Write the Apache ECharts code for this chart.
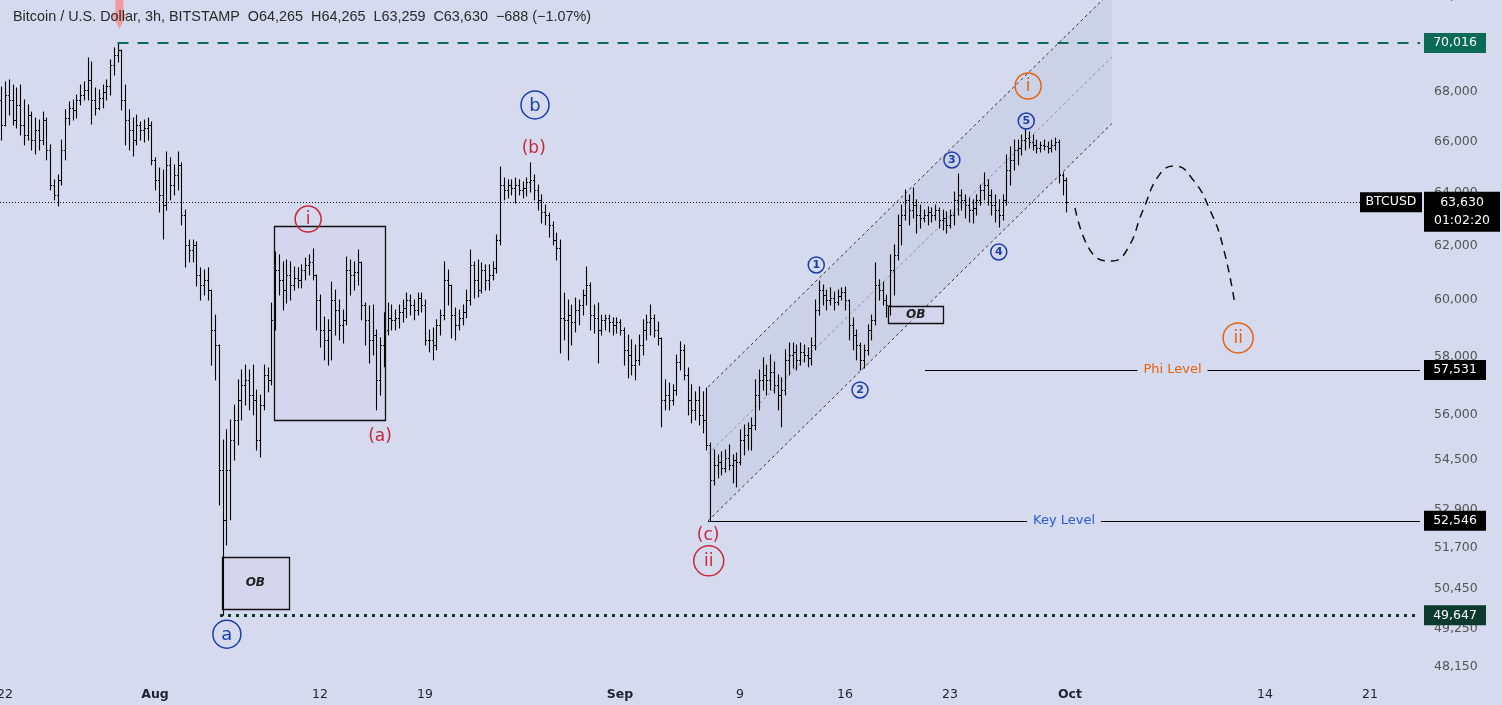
<!DOCTYPE html>
<html>
<head>
<meta charset="utf-8">
<script src="https://cdn.jsdelivr.net/npm/echarts@6/dist/echarts.min.js"></script>
<style>
html,body{margin:0;padding:0;background:#d5daee;}
#chart{width:1502px;height:705px;}
</style>
</head>
<body>
<div id="chart"></div>
<script>
// ---------- DATA (BTCUSD, resampled to 6h bars: [open, high, low, close]) ----------
const firstBarTime = '2024-07-21T18:00';
const barHours = 6;
const barsJul = [
[67660,68190,66050,66650],[66650,68400,66610,67860],[67860,68480,67050,67660],[67660,68270,66650,66850],
[66850,68150,66530,67460],[67460,68270,66250,66650],[66650,67660,65860,66250],[66250,67460,66050,67050],
[67050,67170,65660,66050],[66050,66930,65500,66450],[66450,66850,65660,66050],[66050,67170,65860,66850],
[66850,66930,65270,65660],[65660,65860,64100,64290],[64290,64490,63720,63910],[63910,64680,63490,64490],
[64490,66050,64290,65660],[65660,67260,65270,66930],[66930,67580,66650,67340],[67340,67660,66850,67260],
[67260,67860,66930,67660],[67660,68270,67460,67860],[67860,68400,67660,68070],[68070,69390,67660,68480],
[68480,69220,66690,67660],[67660,68150,67050,67340],[67340,68070,67260,67740],[67740,68270,67340,67990],
[67990,68480,67660,68230],[68230,69310,67860,69100],[69100,69810,68680,69510],[69510,70016,69220,69720],
[69720,69720,67260,67660],[67660,68270,65860,66850],[66850,67260,65660,66450],[66450,66930,65420,66050],
[66050,67050,65860,66650],[66650,66770,66050,66450],[66450,66850,65970,66530],[66530,66930,66050,66650],
[66650,66770,65070,65270]
];
const barsAug = [
[65270,65350,64100,64490],[64490,64950,63260,63910],[63910,64870,62240,63520],[63520,65580,63330,65070],
[65070,65350,63720,64290],[64290,65070,63910,64680],[64680,65580,64100,65070],[65070,65150,62770,63140],
[63140,63330,61200,62020],[62020,62200,61390,61830],[61830,62200,61390,62020],[62020,62130,60510,60910],
[60910,61170,60000,60540],[60540,61090,60180,60730],[60730,61170,60000,60360],[60360,60360,57700,58930],
[58930,59460,57190,58400],[58400,58400,53050,54180],[54180,55160,49647,52580],[52580,55500,51790,54180],
[54180,55830,52580,55160],[55160,56330,54500,55830],[55830,57190,55000,56500],[56500,57530,55830,57020],
[57020,57700,56330,57190],[57190,57530,56170,56670],[56670,57700,56000,56500],[56500,56840,54830,55160],
[55160,56670,54600,56330],[56330,57700,56170,57360],[57360,57600,56780,57190],[57190,59890,57020,59290],
[59290,61760,58930,61090],[61090,61650,60180,60730],[60730,61390,59640,60360],[60360,61460,59890,60910],
[60910,61390,60000,60540],[60540,61200,60360,60800],[60800,61170,60440,60730],[60730,61280,60440,61090],
[61090,61530,60730,61280],[61280,61650,60910,61390],[61390,61870,60730,60910],[60910,60910,58930,60000],
[60000,60180,58330,58930],[58930,59390,57880,58580],[58580,59290,57700,58930],[58930,60650,57880,60000],
[60000,60360,58750,59640],[59640,60000,58580,59110],[59110,59640,58470,59290],[59290,61570,59110,61090],
[61090,61460,60180,60910],[60910,61390,60360,61020],[61020,61830,60540,61390],[61390,61390,59290,59820],
[59820,59890,58400,59290],[59290,59790,57770,58580],[58580,59820,58050,58750],[58750,58930,56170,57190],
[57190,58650,56670,58400],[58400,59540,57640,58930],[58930,59890,58750,59360],[59360,59820,58930,59290],
[59290,59640,58930,59360],[59360,59820,59000,59570],[59570,60000,59210,59710],[59710,60250,59360,60000],
[60000,60180,59460,59820],[59820,60000,59290,59640],[59640,60250,59460,60070],[60070,60250,59570,59820],
[59820,60000,58400,58580],[58580,58930,58160,58580],[58580,59000,57880,58400],[58400,59290,58230,59110],
[59110,59640,58750,59460],[59460,61390,59290,60730],[60730,61090,59820,60540],[60540,60540,58650,59460],
[59460,59710,58580,59110],[59110,59640,58930,59360],[59360,59820,59110,59570],[59570,60360,59360,60000],
[60000,61830,59820,61280],[61280,61390,60070,60730],[60730,61460,60110,60360],[60360,61350,60250,61090],
[61090,61280,60360,60730],[60730,61280,60360,60910],[60910,61390,60730,61170],[61170,62390,60980,62200],
[62200,64990,62020,64290],[64290,64560,63720,64100],[64100,64490,63790,64290],[64290,64490,63910,64180],
[64180,64560,63600,64290],[64290,64490,63910,64100],[64100,64410,63790,64180],[64180,64560,63870,64410],
[64410,65150,64020,64490],[64490,64680,63720,64100],[64100,64290,63330,63720],[63720,63910,62840,63260],
[63260,63520,62770,63140],[63140,63220,62310,62770],[62770,62880,62020,62200],[62200,62460,61460,61900],
[61900,62200,58120,59360],[59360,60250,58580,59290],[59290,60000,57880,59460],[59460,59820,58400,59210],
[59210,60070,58860,59640],[59640,60000,59110,59820],[59820,60360,59460,60180],[60180,61200,59820,60540],
[60540,60620,58930,59460],[59460,59820,58820,59360],[59360,59890,57770,58930],[58930,59460,58750,59290],
[59290,59460,58930,59360],[59360,59460,58860,59210],[59210,59360,58750,59110],[59110,59360,58820,59210]
];
const barsSep = [
[59210,59290,58750,58930],[58930,59000,57700,58230],[58230,58750,57260,58050],[58050,58580,57360,57700],
[57700,58400,57190,57880],[57880,58750,57700,58400],[58400,59290,58050,58930],[58930,59460,58580,59210],
[59210,59820,58750,59360],[59360,59460,58680,58930],[58930,59210,58400,58650],[58650,58650,55600,56500],
[56500,57190,56170,56670],[56670,57080,56170,56500],[56500,57020,56330,56840],[56840,58050,56670,57810],
[57810,58510,57530,58230],[58230,58400,57190,57360],[57360,57600,56000,56500],[56500,57020,55730,56170],
[56170,56780,55830,56500],[56500,56950,55660,56000],[56000,56780,55400,55830],[55830,56910,54830,55000],
[55000,55060,52546,53850],[53850,54830,53690,54340],[54340,54670,53920,54440],[54440,54770,54020,54240],
[54240,54830,54110,54570],[54570,55000,54180,54340],[54340,54670,53760,54500],[54500,54730,53630,54440],
[54440,55500,54340,55160],[55160,55660,54670,55330],[55330,55730,54830,55560],[55560,55900,54830,55660],
[55660,57190,55500,56670],[56670,57530,56170,57190],[57190,57950,56840,57360],[57360,57700,56670,57190],
[57190,58050,56840,57460],[57460,57810,56740,57020],[57020,57360,56170,56670],[56670,57260,55600,56840],
[56840,58230,56670,57880],[57880,58470,57360,58050],[58050,58470,57600,58160],[58160,58400,57530,57880],
[57880,58470,57700,58160],[58160,58400,57810,58050],[58050,58300,57640,57950],[57950,58650,57700,58400],
[58400,60000,58230,59640],[59640,60690,59460,60360],[60360,60540,59820,60180],[60180,60360,59640,60000],
[60000,60440,59820,60070],[60070,60290,59640,59930],[59930,60360,59820,60150],[60150,60440,60000,60290],
[60290,60470,59640,60000],[60000,60000,58580,59110],[59110,59360,58230,58750],[58750,58930,57880,58400],
[58400,58470,57530,57880],[57880,58400,57600,58230],[58230,59110,58050,58930],[58930,59460,58580,59290],
[59290,61350,59110,60540],[60540,60730,60000,60360],[60360,60650,59820,60000],[60000,60180,59390,59820],
[59820,61650,59460,61090],[61090,62020,60180,61650],[61650,63140,61460,62770],[62770,63520,62020,63140],
[63140,64100,62950,63720],[63720,63910,62770,63330],[63330,64180,63030,63520],[63520,63720,62460,63140],
[63140,63520,62650,63030],[63030,63330,62880,63140],[63140,63450,62770,63260],[63260,63410,62880,63140],
[63140,63520,62950,63330],[63330,63410,62650,62950],[62950,63330,62580,63030],[63030,63260,62460,62770],
[62770,63330,62650,63140],[63140,64020,62770,63720],[63720,64720,63140,63910],[63910,64100,63330,63720],
[63720,63910,63030,63520],[63520,63790,62880,63330],[63330,63720,62840,63410],[63410,63910,63140,63720],
[63720,64290,63520,64100],[64100,64760,63720,64290],[64290,64490,63520,63910],[63910,64100,63140,63520],
[63520,63910,62880,63330],[63330,63720,62690,63140],[63140,63910,62950,63720],[63720,65460,63520,64870],
[64870,65780,64290,65270],[65270,66050,64870,65660],[65660,66050,65070,65740],[65740,66250,65460,66050],
[66050,66490,65660,66130],[66130,66370,65740,65970],[65970,66250,65660,65860],[65860,66050,65540,65740],
[65740,65970,65580,65860],[65860,66050,65660,65820],[65820,65970,65540,65740],[65740,66050,65580,65860],
[65860,66130,65660,65970],[65970,66050,64370,64680],[64680,64760,63910,64490],[64490,64560,63259,63630]
];

// axis ticks
const priceTicks = [48150,49250,50450,51700,52900,54500,56000,58000,60000,62000,64000,66000,68000,70000,72000];
const dateTicks = ['2024-07-22T00:00','2024-08-01T00:00','2024-08-12T00:00','2024-08-19T00:00','2024-09-01T00:00',
                   '2024-09-09T00:00','2024-09-16T00:00','2024-09-23T00:00','2024-10-01T00:00','2024-10-14T00:00','2024-10-21T00:00'];
const dateTickLabels = ['22','Aug','12','19','Sep','9','16','23','Oct','14','21'];
const dateTickIsMonth = [false,true,false,false,true,false,false,false,true,false,false];
const viewFrom = '2024-07-21T16:00', viewTo = '2024-10-24T08:00';
const viewPriceLow = 47756, viewPriceHigh = 72280;

// horizontal levels
const levelPrice = [70016, 63630, 57531, 52546, 49647];
const levelFrom  = ['2024-07-29T12:00', viewFrom, '2024-09-21T08:00', '2024-09-06T21:00', '2024-08-05T08:00'];
const levelName  = ['', '', 'Phi Level', 'Key Level', ''];

// rising channel (upper and lower edges)
const channelFrom = '2024-09-06T21:00', channelTo = '2024-10-03T19:00';
const channelUpper = [56947, 72250];
const channelLower = [52546, 66704];

// boxes
const boxFrom   = ['2024-08-08T22:00', '2024-08-05T11:00', '2024-09-18T21:00'];
const boxTo     = ['2024-08-16T08:00', '2024-08-09T22:00', '2024-09-22T13:00'];
const boxTop    = [62730, 51420, 59790];
const boxBottom = [55830, 49840, 59180];
const boxText   = ['', 'OB', 'OB'];

// Elliott wave labels
const waveText   = ['i','(a)','(b)','(c)','ii','b','a','i','ii','1','2','3','4','5'];
const waveTime   = ['2024-08-11T05:00','2024-08-16T00:00','2024-08-26T06:00','2024-09-06T21:00','2024-09-06T22:00',
                    '2024-08-26T08:00','2024-08-05T19:00','2024-09-28T05:00','2024-10-12T05:00',
                    '2024-09-14T02:00','2024-09-17T00:00','2024-09-23T03:00','2024-09-26T06:00','2024-09-28T02:00'];
const wavePrice  = [62990,55300,65740,52100,51300,67460,49090,68230,58650,61275,56844,65266,61756,66810];
const waveDegree = ['minute','minuteSub','minuteSub','minuteSub','minute','minor','minor','next','next','sub','sub','sub','sub','sub'];

// projected path
const projTime  = ['2024-10-01T08:00','2024-10-02T19:00','2024-10-03T19:00','2024-10-04T19:00','2024-10-05T21:00',
                   '2024-10-07T00:00','2024-10-08T00:00','2024-10-09T05:00','2024-10-10T08:00','2024-10-11T05:00','2024-10-12T00:00'];
const projPrice = [63410,61534,61423,61830,63334,64720,65030,64490,63330,61940,59820];

// signal arrow above the high (tip)
const arrowTime = '2024-07-29T15:00', arrowPrice = 70607;

// ---------- BUILD ----------
const ts = s => Date.parse(s + ':00Z');
const L = Math.log;
const fmt = n => n.toLocaleString('en-US');
const H = barHours * 3600000;
const allBars = barsJul.concat(barsAug, barsSep);
const t0 = ts(firstBarTime);
const barData = allBars.map((b, i) => [t0 + i * H, L(b[0]), L(b[1]), L(b[2]), L(b[3])]);
const xMin = ts(viewFrom), xMax = ts(viewTo);

const BG = '#d5daee';
const FONT = "'DejaVu Sans', 'Liberation Sans', sans-serif";
const RED = '#c8283c', BLUE = '#1c3ea8', ORANGE = '#e8620c';
const degreeStyle = {
  minute:    {color: RED,    r: 13, size: 17},
  minuteSub: {color: RED,    r: 0,  size: 17},
  minor:     {color: BLUE,   r: 14, size: 18},
  next:      {color: ORANGE, r: 13, size: 17},
  sub:       {color: BLUE,   r: 8,  size: 11}
};

const dateLabelMap = {};
dateTicks.forEach((d, i) => { dateLabelMap[ts(d)] = dateTickIsMonth[i] ? '{m|' + dateTickLabels[i] + '}' : dateTickLabels[i]; });

const levelColors = ['#0b6b57', '#000', '#000', '#000', '#0c3b2d'];
const levelDash = [[11, 9], [1, 2], 'solid', 'solid', [3, 5]];
const levelWidth = [2, 1, 1, 1, 3];
const levelLabelColor = ['', '', ORANGE, '#2a5bd7', ''];
const lastLineEnd = '2024-10-20T08:00';

const markLines = levelPrice.map((p, i) => [
  {
    coord: [ts(levelFrom[i]), L(p)],
    lineStyle: {color: levelColors[i], width: levelWidth[i], type: levelDash[i]},
    label: levelName[i] ? {show: true, position: 'middle', distance: 0, verticalAlign: 'middle', formatter: levelName[i],
      color: levelLabelColor[i], backgroundColor: BG, padding: [2, 6], fontSize: 13, fontFamily: FONT} : {show: false}
  },
  {coord: [i === 1 ? ts(lastLineEnd) : xMax, L(p)]}
]);

const tag = (p, text, color, w, h, ox, oy) => ({
  coord: [xMax, L(p)], symbol: 'rect', symbolSize: [w, h], symbolOffset: [ox, oy],
  itemStyle: {color: color},
  label: {show: true, position: 'inside', formatter: text, color: '#fff', fontSize: 12.5, fontFamily: FONT, lineHeight: 18}
});

const markPoints = [
  tag(levelPrice[0], fmt(levelPrice[0]), '#0b6b57', 62, 20, 35, 0),
  tag(levelPrice[1], fmt(levelPrice[1]) + '\n01:02:20', '#000', 76, 40, 42, 9.5),
  tag(levelPrice[1], 'BTCUSD', '#000', 62, 20, -29, 0),
  tag(levelPrice[2], fmt(levelPrice[2]), '#000', 62, 20, 35, 0),
  tag(levelPrice[3], fmt(levelPrice[3]), '#000', 62, 20, 35, 0),
  tag(levelPrice[4], fmt(levelPrice[4]), '#0c3b2d', 62, 20, 35, 0)
];

const chart = echarts.init(document.getElementById('chart'), null, {renderer: 'canvas'});
chart.setOption({
  backgroundColor: BG,
  animation: false,
  title: {
    text: 'Bitcoin / U.S. Dollar, 3h, BITSTAMP\u00a0\u00a0O64,265\u00a0\u00a0H64,265\u00a0\u00a0L63,259\u00a0\u00a0C63,630\u00a0\u00a0\u2212688 (\u22121.07%)',
    left: 8, top: 5,
    textStyle: {fontSize: 14.4, fontWeight: 'normal', color: '#2a2a2a', fontFamily: "'Liberation Sans', sans-serif"}
  },
  grid: {left: 0, right: 82, top: -10, bottom: 25, containLabel: false, outerBoundsMode: 'none'},
  xAxis: {
    type: 'value', min: xMin, max: xMax,
    axisLine: {show: false}, axisTick: {show: false}, splitLine: {show: false},
    axisLabel: {
      customValues: dateTicks.map(ts),
      formatter: v => dateLabelMap[Math.round(v)] || '',
      color: '#1e222d', fontSize: 12.5, fontFamily: FONT, margin: 8,
      rich: {m: {fontWeight: 'bold', fontSize: 12.5, fontFamily: FONT, color: '#1e222d'}}
    }
  },
  yAxis: {
    type: 'value', position: 'right', min: L(viewPriceLow), max: L(viewPriceHigh),
    axisLine: {show: false}, axisTick: {show: false}, splitLine: {show: false},
    axisLabel: {
      customValues: priceTicks.map(L),
      formatter: v => fmt(Math.round(Math.exp(v))),
      color: '#555', fontSize: 12.5, fontFamily: FONT, margin: 14
    }
  },
  series: [
    {
      type: 'custom', name: 'channel', z: 1, clip: true, silent: true,
      data: [[ts(channelFrom), L(channelUpper[0]), ts(channelTo), L(channelUpper[1]), L(channelLower[1]), L(channelLower[0])]],
      encode: {x: [0, 2], y: [1, 3, 4, 5]},
      renderItem: (params, api) => {
        const a = api.coord([api.value(0), api.value(1)]);
        const b = api.coord([api.value(2), api.value(3)]);
        const c = api.coord([api.value(2), api.value(4)]);
        const d = api.coord([api.value(0), api.value(5)]);
        return {type: 'group', children: [
          {type: 'polygon', shape: {points: [a, b, c, d]}, style: {fill: 'rgba(150,160,185,0.15)'}},
          {type: 'line', shape: {x1: a[0], y1: a[1], x2: b[0], y2: b[1]}, style: {stroke: '#333', lineWidth: 1, lineDash: [3, 3]}},
          {type: 'line', shape: {x1: d[0], y1: d[1], x2: c[0], y2: c[1]}, style: {stroke: '#333', lineWidth: 1, lineDash: [3, 3]}},
          {type: 'line', shape: {x1: a[0], y1: (a[1] + d[1]) / 2, x2: b[0], y2: (b[1] + c[1]) / 2}, style: {stroke: '#8a8f9e', lineWidth: 1, lineDash: [3, 3]}}
        ]};
      }
    },
    {
      type: 'custom', name: 'boxes', z: 1, clip: true, silent: true,
      data: boxFrom.map((f, i) => [ts(f), L(boxTop[i]), ts(boxTo[i]), L(boxBottom[i])]),
      encode: {x: [0, 2], y: [1, 3]},
      renderItem: (params, api) => {
        const p1 = api.coord([api.value(0), api.value(1)]);
        const p2 = api.coord([api.value(2), api.value(3)]);
        const txt = boxText[params.dataIndex];
        const ch = [{type: 'rect', shape: {x: Math.round(p1[0]) + 0.5, y: Math.round(p1[1]) + 0.5, width: Math.round(p2[0] - p1[0]), height: Math.round(p2[1] - p1[1])},
                     style: {fill: 'rgba(214,206,236,0.38)', stroke: '#111', lineWidth: 1.3}}];
        if (txt) ch.push({type: 'text', style: {text: txt, x: (p1[0] + p2[0]) / 2, y: (p1[1] + p2[1]) / 2, align: 'center', verticalAlign: 'middle',
                          fill: '#222', fontSize: 12, fontWeight: 'bold', fontStyle: 'italic', fontFamily: FONT}});
        return {type: 'group', children: ch};
      }
    },
    {
      type: 'custom', name: 'signal', z: 3, clip: false, silent: true,
      data: [[ts(arrowTime), L(arrowPrice)]],
      encode: {x: 0, y: 1},
      renderItem: (params, api) => {
        const p = api.coord([api.value(0), api.value(1)]);
        const x = p[0], y = p[1];
        return {type: 'polygon', shape: {points: [[x - 4, y - 40], [x + 4, y - 40], [x + 4, y - 15], [x + 7.5, y - 15], [x, y], [x - 7.5, y - 15], [x - 4, y - 15]]},
                style: {fill: '#f39aa0'}};
      }
    },
    {
      type: 'custom', name: 'BTCUSD', z: 2, clip: true, silent: true,
      data: barData,
      encode: {x: 0, y: [1, 2, 3, 4]},
      renderItem: (params, api) => {
        const t = api.value(0);
        const po = api.coord([t, api.value(1)]);
        const ph = api.coord([t, api.value(2)]);
        const pl = api.coord([t, api.value(3)]);
        const pc = api.coord([t, api.value(4)]);
        const x = Math.round(po[0]) + 0.5;
        const st = {stroke: '#000', lineWidth: 1.1};
        return {type: 'group', children: [
          {type: 'line', shape: {x1: x, y1: ph[1] - 0.5, x2: x, y2: pl[1] + 0.5}, style: st},
          {type: 'line', shape: {x1: x - 1.5, y1: Math.round(po[1]) + 0.5, x2: x, y2: Math.round(po[1]) + 0.5}, style: st},
          {type: 'line', shape: {x1: x, y1: Math.round(pc[1]) + 0.5, x2: x + 1.5, y2: Math.round(pc[1]) + 0.5}, style: st}
        ]};
      }
    },
    {
      type: 'custom', name: 'waves', z: 4, clip: false, silent: true,
      data: waveTime.map((t, i) => [ts(t), L(wavePrice[i])]),
      encode: {x: 0, y: 1},
      renderItem: (params, api) => {
        const i = params.dataIndex;
        const p = api.coord([api.value(0), api.value(1)]);
        const st = degreeStyle[waveDegree[i]];
        const ch = [];
        if (st.r) {
          const r = st.r + (waveText[i].length > 1 && st.r > 8 ? 2 : 0);
          ch.push({type: 'circle', shape: {cx: p[0], cy: p[1], r: r}, style: {fill: 'none', stroke: st.color, lineWidth: 1.5}});
        }
        ch.push({type: 'text', style: {text: waveText[i], x: p[0], y: p[1] + (st.r > 8 ? 1 : 0.5), align: 'center', verticalAlign: 'middle',
                 fill: st.color, fontSize: st.size, fontFamily: FONT, fontWeight: st.r === 8 ? 'bold' : 'normal'}});
        return {type: 'group', children: ch};
      }
    },
    {
      type: 'line', name: 'projection', z: 3, clip: false, silent: true,
      data: projTime.map((t, i) => [ts(t), L(projPrice[i])]),
      smooth: 0.5, showSymbol: false, symbol: 'none',
      lineStyle: {color: '#111', width: 1.5, type: [8, 6]},
      markLine: {silent: true, symbol: ['none', 'none'], animation: false, label: {show: false}, data: markLines},
      markPoint: {silent: true, animation: false, data: markPoints}
    }
  ]
});
</script>
</body>
</html>
